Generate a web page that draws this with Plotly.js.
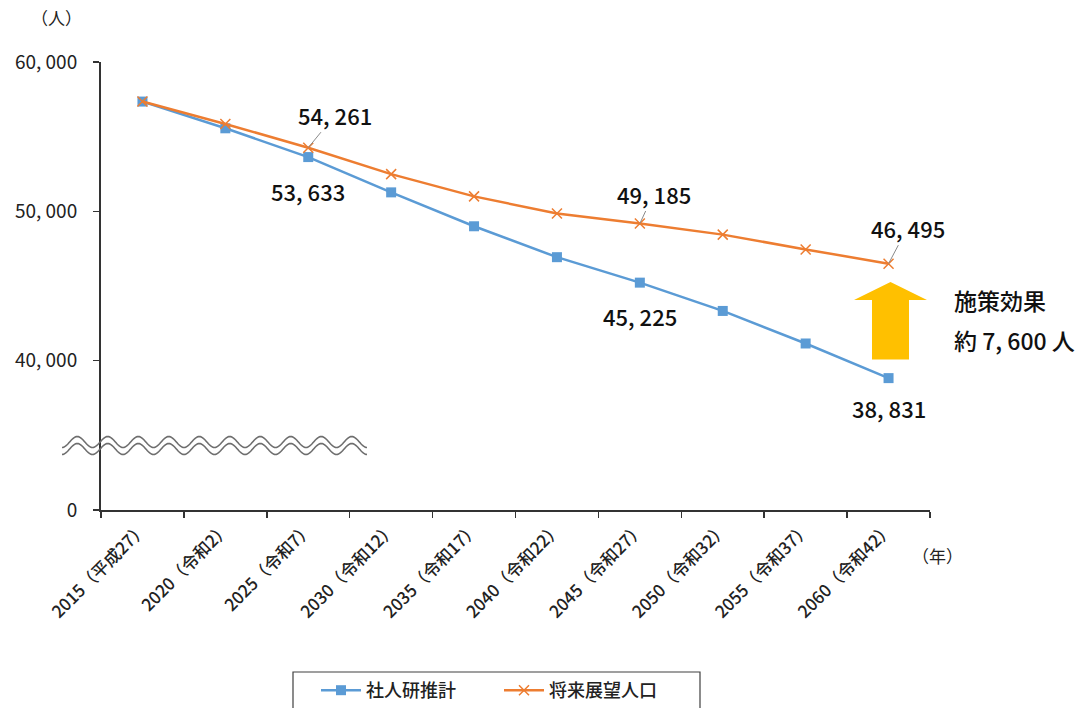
<!DOCTYPE html>
<html>
<head>
<meta charset="utf-8">
<script src="https://cdn.plot.ly/plotly-3.0.1.min.js"></script>
<style>html,body{margin:0;padding:0;background:#fff;}#chart{width:1091px;height:708px;}</style>
</head>
<body>
<div id="chart"></div>
<script>
// ---- data ----
const years = ["2015（平成27）","2020（令和2）","2025（令和7）","2030（令和12）","2035（令和17）",
               "2040（令和22）","2045（令和27）","2050（令和32）","2055（令和37）","2060（令和42）"];
const ipssValues = [57350, 55560, 53633, 51270, 49000, 46930, 45225, 43330, 41150, 38831];
const visionValues = [57350, 55850, 54261, 52490, 51000, 49850, 49185, 48440, 47450, 46495];
const seriesNames = ["社人研推計", "将来展望人口"];
const yTickVals = [30000, 40000, 50000, 60000];
const yTickText = ["0", "40, 000", "50, 000", "60, 000"];
const effectLines = ["施策効果", "約 7, 600 人"];

function fmt(v){ const s = String(v); return s.slice(0, s.length-3) + ", " + s.slice(-3); }

const FONT = '"Noto Sans CJK JP", "Noto Sans", sans-serif';
const W = 1091, H = 708;
const M = {l:101, r:161, t:62, b:198, autoexpand:false};
const PW = W - M.l - M.r, PH = H - M.t - M.b;
const px = x => (x - M.l) / PW;
const py = y => (M.t + PH - y) / PH;

const traces = [
  {x: years, y: ipssValues, name: seriesNames[0], type: "scatter", mode: "lines+markers",
   line: {color: "#5B9BD5", width: 2.5},
   marker: {symbol: "square", size: 10, color: "#5B9BD5"}},
  {x: years, y: visionValues, name: seriesNames[1], type: "scatter", mode: "lines+markers",
   line: {color: "#ED7D31", width: 2.5},
   marker: {symbol: "x-thin", size: 10, line: {color: "#ED7D31", width: 1.5}, color: "#ED7D31"}}
];

// wavy break symbol
function wave(yc){
  let d = "";
  for (let i = 0; i <= 300; i++){
    const xp = 62 + i * (305/300);
    const yp = yc - 5.5 * Math.cos((xp - 62) / 30.5 * 2 * Math.PI + Math.PI);
    d += (i === 0 ? "M" : "L") + px(xp).toFixed(5) + "," + py(yp).toFixed(5);
  }
  return d;
}

// yellow block arrow
const ax0 = px(854), ax1 = px(927), as0 = px(872), as1 = px(909), amid = px(890.5);
const arrowPath = `M${amid},45270 L${ax1},44070 L${as1},44070 L${as1},40070 L${as0},40070 L${as0},44070 L${ax0},44070 Z`;

const shapes = [
  {type:"path", xref:"paper", yref:"paper", path: wave(442), line:{color:"#6e6e6e", width:1.6}},
  {type:"path", xref:"paper", yref:"paper", path: wave(449), line:{color:"#6e6e6e", width:1.6}},
  {type:"path", xref:"paper", yref:"y", path: arrowPath, fillcolor:"#FFC000", line:{width:0}},
  // legend frame
  {type:"rect", xref:"paper", yref:"paper", x0: px(293), x1: px(700), y0: py(672), y1: py(715),
   line:{color:"#404040", width:1.2}, fillcolor:"rgba(0,0,0,0)"}
];

const labFont = {family: FONT, size: 22, color: "#111", weight: 500};
const annotations = [
  {x: years[2], y: visionValues[2], text: fmt(visionValues[2]), showarrow: true, arrowhead: 0, arrowwidth: 1, arrowcolor: "#8a8a8a", ax: 27, ay: -33, font: labFont},
  {x: years[6], y: visionValues[6], text: fmt(visionValues[6]), showarrow: true, arrowhead: 0, arrowwidth: 1, arrowcolor: "#8a8a8a", ax: 14, ay: -30, font: labFont},
  {x: years[9], y: visionValues[9], text: fmt(visionValues[9]), showarrow: true, arrowhead: 0, arrowwidth: 1, arrowcolor: "#8a8a8a", ax: 19, ay: -36, font: labFont},
  {x: years[2], y: ipssValues[2], text: fmt(ipssValues[2]), showarrow: false, yshift: -34, font: labFont},
  {x: years[6], y: ipssValues[6], text: fmt(ipssValues[6]), showarrow: false, yshift: -33, font: labFont},
  {x: years[9], y: ipssValues[9], text: fmt(ipssValues[9]), showarrow: false, yshift: -30, font: labFont},
  {xref:"paper", yref:"paper", x: px(952), y: py(300), xanchor:"left", yanchor:"middle", align:"left",
   text: effectLines[0], showarrow:false, font:{family: FONT, size: 23, color:"#111", weight: 500}},
  {xref:"paper", yref:"paper", x: px(952), y: py(340), xanchor:"left", yanchor:"middle", align:"left",
   text: effectLines[1], showarrow:false, font:{family: FONT, size: 23, color:"#111", weight: 500}},
  {xref:"paper", yref:"paper", x: px(56), y: py(18), xanchor:"center", yanchor:"middle",
   text: "（人）", showarrow:false, font:{family: FONT, size: 17, color:"#222"}},
  {xref:"paper", yref:"paper", x: px(937), y: py(555), xanchor:"center", yanchor:"middle",
   text: "（年）", showarrow:false, font:{family: FONT, size: 17, color:"#222"}}
];

const layout = {
  width: W, height: H,
  margin: M,
  paper_bgcolor: "#fff", plot_bgcolor: "#fff",
  font: {family: FONT, color: "#222"},
  showlegend: true,
  legend: {orientation: "h", x: px(316), y: py(672), xanchor: "left", yanchor: "top",
           bgcolor: "rgba(0,0,0,0)", borderwidth: 0,
           font: {family: FONT, size: 18, color: "#222", weight: 500},
           entrywidth: 128, itemwidth: 40},
  xaxis: {type: "category", range: [-0.5, 9.5], showgrid: false, zeroline: false, automargin: false,
          showline: true, linecolor: "#333", linewidth: 2,
          ticks: "outside", tickson: "boundaries", ticklen: 6, tickcolor: "#333", tickwidth: 1.5,
          tickangle: -45, tickfont: {family: FONT, size: 17, color: "#222", weight: 500}},
  yaxis: {range: [30000, 60000], showgrid: false, zeroline: false, automargin: false,
          showline: true, linecolor: "#333", linewidth: 2,
          ticks: "outside", ticklen: 6, tickcolor: "#333", tickwidth: 1.5,
          tickvals: yTickVals, ticktext: yTickText, ticklabelstandoff: 12,
          tickfont: {family: FONT, size: 19, color: "#222"}},
  shapes: shapes,
  annotations: annotations
};

Plotly.newPlot("chart", traces, layout, {displayModeBar: false, staticPlot: true});
</script>
</body>
</html>
